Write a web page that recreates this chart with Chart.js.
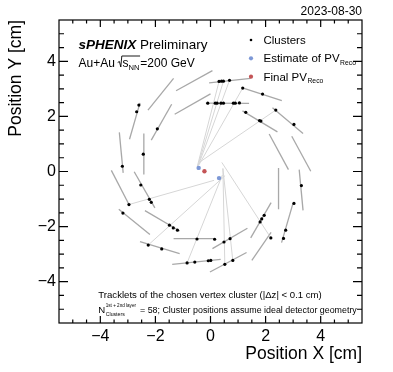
<!DOCTYPE html>
<html>
<head>
<meta charset="utf-8">
<script src="https://cdn.jsdelivr.net/npm/chart.js@4.4.1/dist/chart.umd.min.js"></script>
<style>
  html, body { margin: 0; padding: 0; background: #fff; }
  #wrap { width: 393px; height: 372px; }
</style>
</head>
<body>
<div id="wrap"><canvas id="myChart" width="393" height="372"></canvas></div>
<script>
// detector ladders, [x1, y1, x2, y2] in cm
const ladders = [
  [0.07, 3.66, -1.25, 2.93], [0.00, 2.82, -1.30, 2.08], [-1.34, 3.38, -2.27, 2.23],
  [-1.41, 2.44, -2.15, 1.14], [-2.56, 2.49, -2.94, 1.17], [-3.31, 1.42, -3.17, -0.05],
  [-2.42, 1.38, -2.42, -0.11], [-3.60, 0.04, -2.96, -1.20], [-2.77, -0.01, -2.02, -1.32],
  [-3.33, -1.37, -2.20, -2.29], [-2.38, -1.42, -1.12, -2.16], [-2.56, -2.55, -1.12, -2.98],
  [-1.34, -2.44, 0.16, -2.44], [0.07, -2.80, 1.34, -2.06], [-1.39, -3.37, 0.37, -3.19],
  [-0.02, -3.65, 1.31, -2.94], [1.46, -2.41, 2.20, -1.13], [2.20, -2.21, 1.50, -3.23],
  [3.00, -1.14, 2.58, -2.58], [2.47, 0.13, 2.47, -1.37], [3.22, 0.07, 3.36, -1.41],
  [2.95, 1.28, 3.64, 0.01], [2.13, 1.36, 2.83, 0.07], [2.25, 2.31, 3.36, 1.38],
  [1.16, 2.20, 2.43, 1.44], [1.16, 3.04, 2.59, 2.57], [-0.17, 2.48, 1.40, 2.47],
  [-0.05, 3.22, 1.46, 3.38]
];

// cluster positions [x, y] in cm
const clusters = [
  [-1.93, 1.55], [-2.60, 2.41], [-2.68, 2.17], [-3.20, 0.19], [-2.44, 0.63],
  [-2.96, -1.20], [-2.53, -0.49], [-2.22, -1.01], [-2.15, -1.12], [-3.18, -1.51],
  [-1.49, -1.95], [-1.35, -2.05], [-1.20, -2.13], [-2.26, -2.67], [-1.77, -2.81],
  [-0.49, -2.45], [0.15, -2.46], [0.49, -2.56], [0.71, -2.44], [1.80, -1.83],
  [1.86, -1.72], [1.95, -1.59], [3.30, -0.51], [3.03, -1.16], [2.73, -2.13],
  [2.65, -2.43], [2.19, -2.41], [-0.85, -3.32], [-0.57, -3.29], [-0.08, -3.24],
  [0.01, -3.23], [0.52, -3.37], [0.81, -3.23], [0.31, 3.27], [0.40, 3.28],
  [0.47, 3.28], [0.69, 3.31], [-0.10, 2.48], [0.17, 2.48], [0.24, 2.48],
  [0.38, 2.48], [0.47, 2.48], [0.83, 2.48], [0.90, 2.48], [1.05, 2.49],
  [1.17, 3.03], [1.89, 2.81], [1.28, 2.15], [1.78, 1.85], [1.83, 1.83],
  [2.37, 2.23], [3.03, 1.71]
];

// tracklets of the chosen vertex cluster [x1, y1, x2, y2]
const tracklets = [
  [-0.48, 0.18, 0.31, 3.27], [-0.46, 0.20, 0.47, 3.28], [-0.44, 0.22, 0.69, 3.31],
  [-0.42, 0.24, 1.17, 3.03], [-0.38, 0.35, 2.37, 2.23],
  [0.13, -0.32, -2.96, -1.20], [0.53, -0.15, -2.26, -2.67], [0.43, -0.13, -0.85, -3.32],
  [0.45, 0.11, 0.52, -3.37], [0.45, 0.11, 0.81, -3.23], [0.41, 0.33, 2.19, -2.41]
];

const pvEstimate = [[-0.43, 0.13], [0.31, -0.24]];
const pvFinal = [[-0.22, 0.01]];

const axisTicks = [-4, -2, 0, 2, 4];
const axisMin = -5.5;
const axisMax = 5.5;

const FONT = '"Liberation Sans", Arial, Helvetica, sans-serif';
const BLUE = '#7d98d6';
const RED = '#c45456';
const pt = (a) => ({ x: a[0], y: a[1] });
const fmt = (v) => (v < 0 ? '\u2212' + Math.abs(v) : String(v));

const datasets = [];
datasets.push({
  label: 'Final PV', data: pvFinal.map(pt), order: 0,
  pointRadius: 2.2, pointBackgroundColor: RED, pointBorderWidth: 0
});
datasets.push({
  label: 'Estimate of PV', data: pvEstimate.map(pt), order: 0,
  pointRadius: 2.2, pointBackgroundColor: BLUE, pointBorderWidth: 0
});
datasets.push({
  label: 'Clusters', data: clusters.map(pt), order: 1,
  pointRadius: 1.6, pointBackgroundColor: '#000', pointBorderWidth: 0
});
tracklets.forEach((t) => datasets.push({
  label: 'tracklet', data: [{ x: t[0], y: t[1] }, { x: t[2], y: t[3] }], order: 2,
  showLine: true, pointRadius: 0, borderColor: '#d6d6d6', borderWidth: 1
}));
ladders.forEach((l) => datasets.push({
  label: 'ladder', data: [{ x: l[0], y: l[1] }, { x: l[2], y: l[3] }], order: 3,
  showLine: true, pointRadius: 0, borderColor: '#a8a8a8', borderWidth: 1.3
}));

// frame + ROOT-style inward ticks on all four sides
const framePlugin = {
  id: 'frame',
  afterDatasetsDraw(chart) {
    const { ctx, chartArea: a, scales: { x, y } } = chart;
    ctx.save();
    ctx.strokeStyle = '#000';
    ctx.lineWidth = 1.2;
    ctx.strokeRect(a.left, a.top, a.right - a.left, a.bottom - a.top);
    ctx.beginPath();
    for (let v = axisMin + 0.5; v < axisMax; v += 0.5) {
      const major = axisTicks.includes(v);
      const px = x.getPixelForValue(v);
      const lx = major ? 7 : 3.5;
      ctx.moveTo(px, a.bottom); ctx.lineTo(px, a.bottom - lx);
      ctx.moveTo(px, a.top); ctx.lineTo(px, a.top + lx);
      const py = y.getPixelForValue(v);
      const ly = major ? 9 : 5;
      ctx.moveTo(a.left, py); ctx.lineTo(a.left + ly, py);
      ctx.moveTo(a.right, py); ctx.lineTo(a.right - ly, py);
    }
    ctx.stroke();
    ctx.restore();
  }
};

function text(ctx, s, x, y, size, style) {
  ctx.font = (style || '') + ' ' + size + 'px ' + FONT;
  ctx.fillText(s, x, y);
  return x + ctx.measureText(s).width;
}

const labelPlugin = {
  id: 'labels',
  afterDraw(chart) {
    const ctx = chart.ctx;
    ctx.save();
    ctx.fillStyle = '#000';
    ctx.textBaseline = 'alphabetic';
    ctx.textAlign = 'left';

    // date
    ctx.textAlign = 'right';
    text(ctx, '2023-08-30', 362, 15, 12);
    ctx.textAlign = 'left';

    // sPHENIX Preliminary
    let xe = text(ctx, 'sPHENIX', 78.5, 49, 13.5, 'italic bold');
    text(ctx, ' Preliminary', xe, 49, 13.5);

    // Au+Au sqrt(s_NN)=200 GeV
    xe = text(ctx, 'Au+Au ', 78.5, 66.7, 12);
    ctx.strokeStyle = '#000';
    ctx.lineWidth = 0.9;
    ctx.beginPath();
    ctx.moveTo(xe - 0.5, 62.5);
    ctx.lineTo(xe + 1.2, 61.5);
    ctx.lineTo(xe + 2.6, 67);
    ctx.lineTo(xe + 3.6, 56);
    const sx = xe + 4.4;
    let se = text(ctx, 's', sx, 66.7, 12);
    se = text(ctx, 'NN', se, 69.5, 7.6);
    ctx.lineTo(se + 0.5, 56);
    ctx.stroke();
    text(ctx, '=200 GeV', se + 0.8, 66.7, 12);

    // legend
    const legend = [
      ['Clusters', '', '#000', 1.3, 40],
      ['Estimate of PV', 'Reco', BLUE, 2.1, 58.3],
      ['Final PV', 'Reco', RED, 2.1, 76.7]
    ];
    legend.forEach(([t, sub, col, r, ly]) => {
      ctx.fillStyle = col;
      ctx.beginPath();
      ctx.arc(251, ly, r, 0, Math.PI * 2);
      ctx.fill();
      ctx.fillStyle = '#000';
      const e = text(ctx, t, 263.5, ly + 3.8, 11.5);
      if (sub) text(ctx, sub, e + 0.5, ly + 6.5, 6.8);
    });

    // bottom notes
    text(ctx, 'Tracklets of the chosen vertex cluster (|\u0394z| < 0.1 cm)', 98.3, 298.3, 9.6);
    const ne = text(ctx, 'N', 98.3, 313.3, 9.6);
    text(ctx, '1st + 2nd layer', ne + 0.5, 306.8, 4.6);
    text(ctx, 'Clusters', ne + 0.5, 316.3, 5.2);
    text(ctx, '= 58; Cluster positions assume ideal detector geometry', 140, 313.3, 8.9);
    ctx.restore();
  }
};

const config = {
  type: 'scatter',
  data: { datasets },
  options: {
    responsive: false,
    animation: false,
    devicePixelRatio: 1,
    layout: { padding: { top: 20, right: 31, left: 0, bottom: 0 } },
    plugins: { legend: { display: false }, tooltip: { enabled: false } },
    scales: {
      x: {
        type: 'linear', position: 'bottom', min: axisMin, max: axisMax,
        grid: { display: false, drawTicks: false }, border: { display: false },
        afterBuildTicks: (s) => { s.ticks = axisTicks.map((v) => ({ value: v })); },
        afterFit: (s) => { s.height = 49; },
        ticks: { color: '#000', font: { family: FONT, size: 16 }, padding: 4, callback: fmt, maxRotation: 0 },
        title: { display: true, text: 'Position X [cm]', align: 'end', color: '#000',
                 font: { family: FONT, size: 17.5 }, padding: { top: 0, bottom: 7.5 } }
      },
      y: {
        type: 'linear', position: 'left', min: axisMin, max: axisMax,
        grid: { display: false, drawTicks: false }, border: { display: false },
        afterBuildTicks: (s) => { s.ticks = axisTicks.map((v) => ({ value: v })); },
        afterFit: (s) => { s.width = 59; },
        ticks: { color: '#000', font: { family: FONT, size: 16 }, padding: 3, callback: fmt },
        title: { display: true, text: 'Position Y [cm]', align: 'end', color: '#000',
                 font: { family: FONT, size: 17.5 }, padding: { top: 5.5, bottom: 0 } }
      }
    }
  },
  plugins: [framePlugin, labelPlugin]
};

const myChart = new Chart(document.getElementById('myChart'), config);
</script>
</body>
</html>
